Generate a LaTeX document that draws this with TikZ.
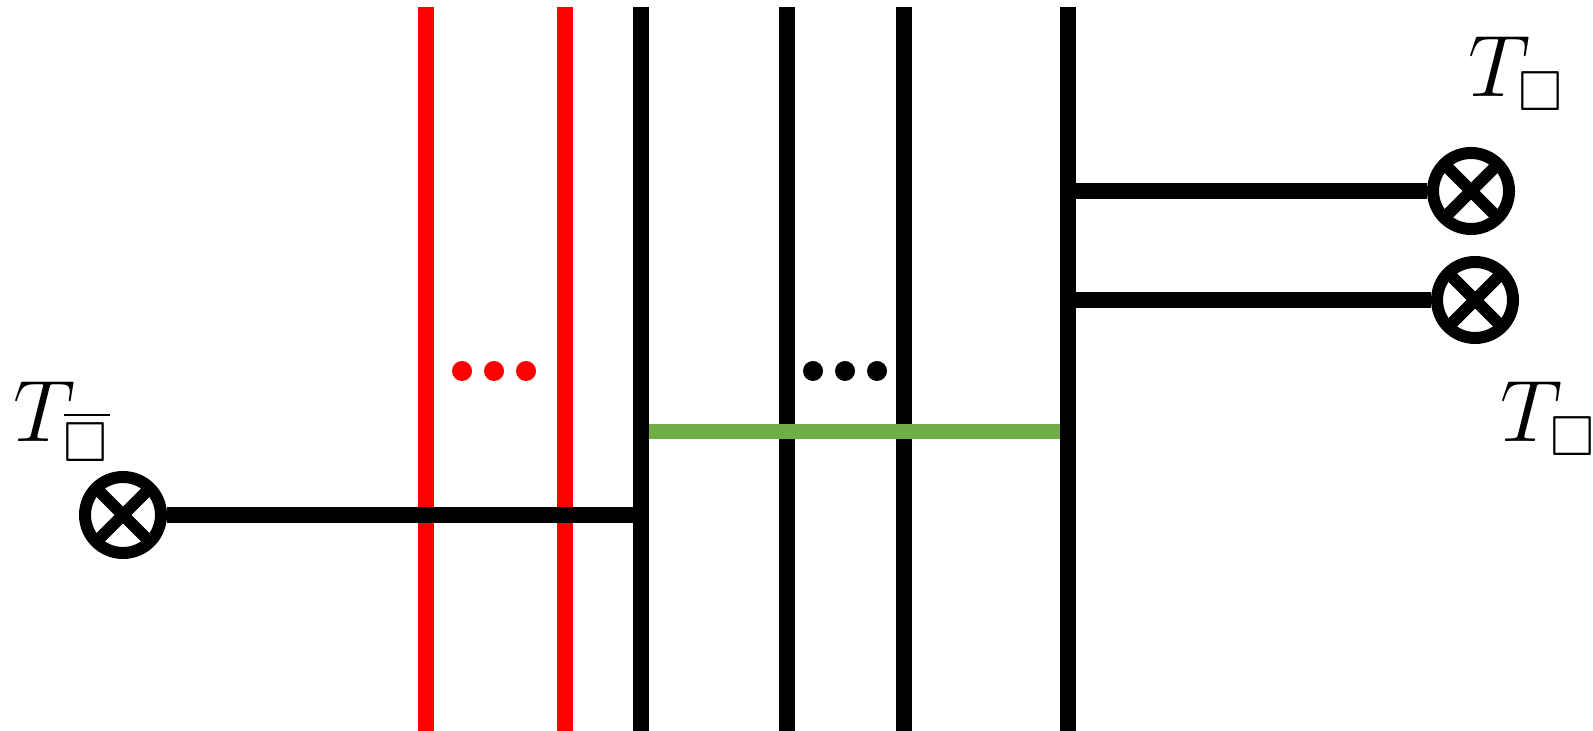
\documentclass[tikz,border=0pt]{standalone}
\usepackage{amsmath,amssymb}
\usepackage{tikz}
\usetikzlibrary{positioning}

\definecolor{legred}{HTML}{FF0000}
\definecolor{leggreen}{HTML}{70AD47}

\begin{document}
\begin{tikzpicture}[
  x=0.1mm, y=-0.1mm,
  leg/.style={line width=1.55mm},
  tensor/.style={
    circle, draw, line width=1.2mm, minimum size=7.6mm, inner sep=0pt, fill=white,
    path picture={
      \draw[line width=1.2mm] (path picture bounding box.north west) -- (path picture bounding box.south east);
      \draw[line width=1.2mm] (path picture bounding box.north east) -- (path picture bounding box.south west);
    }
  },
  lbl/.style={font=\fontsize{23}{27}\selectfont, inner sep=0pt, anchor=base west},
  dot/.style={circle, inner sep=0pt, minimum size=2mm}
]
\useasboundingbox (0,0) rectangle (1593,731);

% wires
\foreach \name/\x in {w1/426, w2/565, w3/641, w4/787, w5/904, w6/1068} {
  \coordinate (\name top) at (\x,7);
  \coordinate (\name bot) at (\x,731);
}
\draw[leg, legred] (w1top) -- (w1bot);
\draw[leg, legred] (w2top) -- (w2bot);
\draw[leg] (w3top) -- (w3bot);
\draw[leg] (w4top) -- (w4bot);
\draw[leg] (w5top) -- (w5bot);

% bond between w3 and w6
\coordinate (g1) at (649,431.5);
\coordinate (g2) at (1076,431.5);
\draw[leg, leggreen] (g1) -- (g2);
\draw[leg] (w6top) -- (w6bot);

% dots
\foreach \x [count=\i] in {462,494,526}
  \node[dot, fill=legred] (rd\i) at (\x,371) {};
\foreach \x [count=\i] in {813,845,877}
  \node[dot, fill=black] (bd\i) at (\x,371) {};

% boundary tensors
\node[tensor] (tl) at (123,515) {};
\node[tensor] (tr1) at (1471,191) {};
\node[tensor] (tr2) at (1475,300) {};

\draw[leg] (tl) -- (tl -| w3top);
\draw[leg] (tr1 -| w6top) -- (tr1);
\draw[leg] (tr2 -| w6top) -- (tr2);

% labels
\node[lbl] (ltl) at (13,442) {$T_{\overline{\square}}$};
\node[lbl] (ltr1) at (1468,97) {$T_{\square}$};
\node[lbl] (ltr2) at (1500,442) {$T_{\square}$};
\end{tikzpicture}
\end{document}
